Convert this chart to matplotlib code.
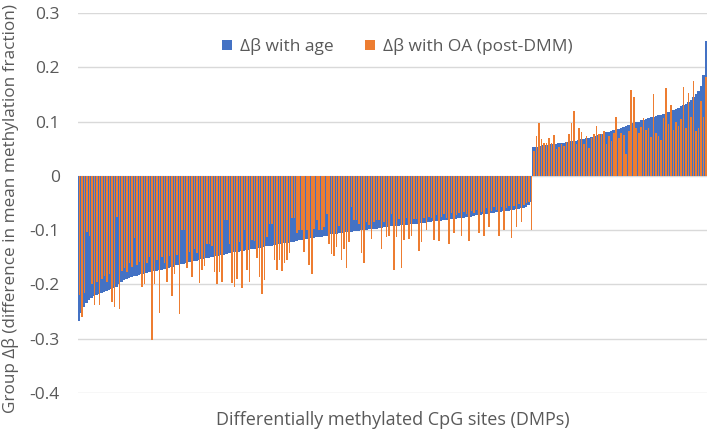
import matplotlib
matplotlib.use("Agg")
import matplotlib.pyplot as plt
import numpy as np

# Δβ with age (sorted) – sites with negative Δβ, then sites with positive Δβ
age_neg = [-0.268, -0.252, -0.241, -0.234, -0.229, -0.225, -0.222, -0.220, -0.218, -0.216,
           -0.214, -0.212, -0.210, -0.208, -0.207, -0.205, -0.200, -0.195, -0.192, -0.190,
           -0.188, -0.187, -0.185, -0.184, -0.182, -0.181, -0.180, -0.179, -0.178, -0.177,
           -0.176, -0.175, -0.174, -0.173, -0.172, -0.171, -0.169, -0.168, -0.167, -0.165,
           -0.164, -0.163, -0.162, -0.161, -0.159, -0.158, -0.157, -0.156, -0.155, -0.154,
           -0.153, -0.152, -0.151, -0.150, -0.149, -0.148, -0.147, -0.146, -0.145, -0.144,
           -0.143, -0.142, -0.141, -0.141, -0.140, -0.139, -0.138, -0.137, -0.136, -0.135,
           -0.135, -0.134, -0.133, -0.132, -0.131, -0.130, -0.130, -0.129, -0.128, -0.127,
           -0.126, -0.125, -0.124, -0.124, -0.123, -0.122, -0.121, -0.120, -0.119, -0.118,
           -0.118, -0.117, -0.116, -0.115, -0.114, -0.113, -0.112, -0.112, -0.111, -0.110,
           -0.109, -0.108, -0.108, -0.107, -0.106, -0.105, -0.105, -0.104, -0.104, -0.103,
           -0.102, -0.102, -0.101, -0.100, -0.100, -0.099, -0.098, -0.098, -0.097, -0.097,
           -0.096, -0.096, -0.095, -0.095, -0.094, -0.093, -0.093, -0.092, -0.092, -0.091,
           -0.091, -0.090, -0.090, -0.089, -0.089, -0.088, -0.088, -0.087, -0.087, -0.086,
           -0.085, -0.085, -0.084, -0.084, -0.083, -0.083, -0.082, -0.081, -0.081, -0.080,
           -0.079, -0.079, -0.078, -0.077, -0.077, -0.076, -0.075, -0.075, -0.074, -0.073,
           -0.072, -0.072, -0.071, -0.070, -0.070, -0.069, -0.068, -0.067, -0.067, -0.066,
           -0.065, -0.064, -0.064, -0.063, -0.062, -0.061, -0.061, -0.060, -0.059, -0.057,
           -0.054, -0.048]
age_pos = [0.053, 0.054, 0.054, 0.055, 0.056, 0.056, 0.057, 0.058, 0.058, 0.059,
           0.060, 0.061, 0.061, 0.062, 0.063, 0.064, 0.064, 0.065, 0.066, 0.067,
           0.068, 0.069, 0.070, 0.071, 0.072, 0.074, 0.075, 0.077, 0.078, 0.080,
           0.081, 0.082, 0.084, 0.085, 0.087, 0.088, 0.090, 0.091, 0.093, 0.095,
           0.097, 0.099, 0.100, 0.102, 0.103, 0.105, 0.106, 0.108, 0.109, 0.110,
           0.112, 0.113, 0.114, 0.116, 0.118, 0.119, 0.121, 0.123, 0.125, 0.128,
           0.130, 0.133, 0.136, 0.140, 0.145, 0.150, 0.157, 0.166, 0.185, 0.248]

# Δβ with OA (post-DMM) for the same sites, same order
oa_neg = [-0.220, -0.260, -0.215, -0.104, -0.110, -0.200, -0.238, -0.195, -0.238, -0.190,
          -0.185, -0.195, -0.180, -0.232, -0.241, -0.076, -0.246, -0.175, -0.170, -0.178,
          -0.160, -0.168, -0.115, -0.165, -0.158, -0.205, -0.200, -0.160, -0.150, -0.302,
          -0.200, -0.155, -0.253, -0.150, -0.160, -0.196, -0.148, -0.222, -0.180, -0.145,
          -0.254, -0.100, -0.100, -0.170, -0.140, -0.186, -0.135, -0.142, -0.198, -0.174,
          -0.166, -0.125, -0.125, -0.130, -0.177, -0.200, -0.177, -0.195, -0.082, -0.082,
          -0.125, -0.198, -0.204, -0.190, -0.122, -0.207, -0.100, -0.173, -0.195, -0.118,
          -0.120, -0.152, -0.186, -0.218, -0.192, -0.112, -0.088, -0.088, -0.155, -0.174,
          -0.155, -0.175, -0.161, -0.155, -0.143, -0.077, -0.077, -0.105, -0.100, -0.100,
          -0.140, -0.100, -0.164, -0.180, -0.098, -0.082, -0.100, -0.100, -0.095, -0.070,
          -0.125, -0.144, -0.148, -0.131, -0.092, -0.155, -0.134, -0.170, -0.122, -0.057,
          -0.082, -0.082, -0.088, -0.142, -0.161, -0.085, -0.090, -0.116, -0.085, -0.082,
          -0.082, -0.134, -0.085, -0.112, -0.110, -0.070, -0.174, -0.113, -0.080, -0.169,
          -0.119, -0.078, -0.117, -0.110, -0.080, -0.080, -0.139, -0.122, -0.078, -0.100,
          -0.075, -0.078, -0.119, -0.072, -0.120, -0.075, -0.070, -0.078, -0.125, -0.068,
          -0.105, -0.072, -0.068, -0.110, -0.066, -0.070, -0.120, -0.064, -0.068, -0.062,
          -0.105, -0.066, -0.110, -0.060, -0.095, -0.064, -0.058, -0.062, -0.110, -0.058,
          -0.100, -0.060, -0.055, -0.115, -0.056, -0.095, -0.052, -0.085, -0.054, -0.050,
          -0.048, -0.100]
oa_pos = [0.045, 0.073, 0.097, 0.068, 0.060, 0.061, 0.069, 0.061, 0.075, 0.050,
          0.053, 0.058, 0.055, 0.062, 0.077, 0.097, 0.119, 0.058, 0.088, 0.080,
          0.058, 0.073, 0.052, 0.070, 0.077, 0.091, 0.077, 0.077, 0.082, 0.058,
          0.073, 0.064, 0.079, 0.108, 0.070, 0.079, 0.075, 0.040, 0.082, 0.159,
          0.146, 0.088, 0.079, 0.090, 0.106, 0.085, 0.088, 0.071, 0.151, 0.079,
          0.073, 0.066, 0.107, 0.161, 0.095, 0.130, 0.085, 0.100, 0.091, 0.104,
          0.163, 0.088, 0.152, 0.108, 0.174, 0.082, 0.088, 0.137, 0.108, 0.183]

age = age_neg + age_pos
oa = oa_neg + oa_pos

y_ticks = [-0.4, -0.3, -0.2, -0.1, 0, 0.1, 0.2, 0.3]
y_tick_labels = ["-0.4", "-0.3", "-0.2", "-0.1", "0", "0.1", "0.2", "0.3"]

BLUE = "#4472C4"
ORANGE = "#ED7D31"
TXT = "#595959"
plt.rcParams['font.family'] = ['Open Sans', 'DejaVu Sans']

fig = plt.figure(figsize=(7.09, 4.40), dpi=100)
ax = fig.add_axes([78 / 709, 1 - 393 / 440, 629 / 709, 380 / 440])

n = len(age)
x = np.arange(n)
ax.bar(x, age, width=1.0, color=BLUE, linewidth=0, label="Δβ with age", zorder=2)
ax.bar(x + 0.15, oa[:n], width=0.62, color=ORANGE, linewidth=0, label="Δβ with OA (post-DMM)", zorder=3)

ax.set_xlim(-0.5, n - 0.5)
ax.set_ylim(-0.4, 0.3)
ax.set_yticks(y_ticks)
ax.set_yticklabels(y_tick_labels)
ax.set_xticks([])
ax.yaxis.grid(True, color="#d9d9d9", linewidth=1.0, zorder=0)
ax.set_axisbelow(True)
for s in ax.spines.values():
    s.set_visible(False)
ax.tick_params(axis="y", length=0, pad=13, labelsize=12.5, labelcolor=TXT)

ax.set_ylabel("Group Δβ (difference in mean methylation fraction)", fontsize=12.3, color=TXT)
ax.yaxis.set_label_coords(-0.094, 0.485)
ax.set_xlabel("Differentially methylated CpG sites (DMPs)", fontsize=13, color=TXT, labelpad=13)

leg = ax.legend(loc="upper center", bbox_to_anchor=(0.508, 0.975), ncol=2, frameon=False,
                fontsize=12.5, handlelength=0.55, handleheight=0.55, columnspacing=1.8, handletextpad=0.5)
for t in leg.get_texts():
    t.set_color(TXT)

fig.savefig("out.png", dpi=100)
